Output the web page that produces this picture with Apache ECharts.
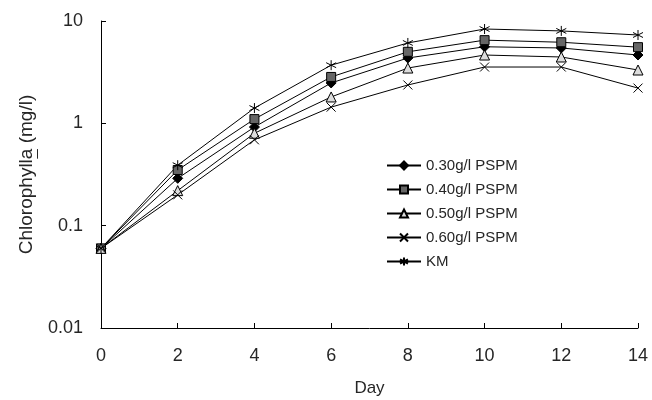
<!DOCTYPE html>
<html><head><meta charset="utf-8">
<script src="https://cdn.jsdelivr.net/npm/echarts@6/dist/echarts.min.js"></script>
<style>html,body{margin:0;padding:0;background:#fff}#c{width:652px;height:400px}</style>
</head><body><div id="c"></div>
<script>
const days = [0, 2, 4, 6, 8, 10, 12, 14];
const seriesNames = ['0.30g/l PSPM', '0.40g/l PSPM', '0.50g/l PSPM', '0.60g/l PSPM', 'KM'];
const pspm030 = [0.06, 0.29, 0.92, 2.48, 4.35, 5.6, 5.45, 4.65];
const pspm040 = [0.06, 0.35, 1.10, 2.84, 5.0, 6.5, 6.2, 5.55];
const pspm050 = [0.06, 0.22, 0.80, 1.81, 3.47, 4.65, 4.45, 3.32];
const pspm060 = [0.06, 0.20, 0.69, 1.44, 2.37, 3.55, 3.55, 2.21];
const km = [0.06, 0.39, 1.41, 3.7, 6.1, 8.35, 8.0, 7.3];
const yTicks = [0.01, 0.1, 1, 10];

const font = '"Liberation Sans", Arial, sans-serif';
const txt = '#262626';
const values = [pspm030, pspm040, pspm050, pspm060, km];
const symbols = [
  {symbol: 'diamond', size: 10, fill: '#000'},
  {symbol: 'rect', size: 9, fill: '#666'},
  {symbol: 'triangle', size: 10, fill: '#ddd'},
  {symbol: 'path://M0,0L10,10M10,0L0,10', size: 9, fill: 'none'},
  {symbol: 'path://M5,0L5,10M0,2.5L10,7.5M0,7.5L10,2.5', size: 10, fill: 'none'}
];

const gridTop = 21, gridBottom = 72, H = 400;
const nameSize = 19, nameGap = 65;
const namePre = 'Chlorophyll', nameA = 'a', namePost = ' (mg/l)';

// underline position for the "a" in the rotated axis name
const ctx = document.createElement('canvas').getContext('2d');
ctx.font = nameSize + 'px ' + font;
const wFull = ctx.measureText(namePre + nameA + namePost).width;
const wPre = ctx.measureText(namePre).width;
const wA = ctx.measureText(nameA).width;
const cy = (gridTop + (H - gridBottom)) / 2;
const yBottom = cy + wFull / 2;
const ulY1 = yBottom - wPre - wA + 0.5;
const ulY2 = yBottom - wPre - 0.5;
const ulX = 101 - nameGap + 1.5;

const series = seriesNames.map((n, i) => ({
  name: n,
  type: 'line',
  data: days.map((d, j) => [d, values[i][j]]),
  symbol: symbols[i].symbol,
  symbolSize: symbols[i].size,
  showAllSymbol: true,
  lineStyle: {color: '#000', width: 1},
  itemStyle: {color: symbols[i].fill, borderColor: '#000', borderWidth: 1},
  emphasis: {disabled: true},
  animation: false,
  z: 2
}));

const chart = echarts.init(document.getElementById('c'));
chart.setOption({
  backgroundColor: '#fff',
  animation: false,
  grid: {left: 101, right: 14, top: gridTop, bottom: gridBottom, containLabel: false, outerBoundsMode: 'none'},
  legend: {
    orient: 'vertical', left: 381, top: 153,
    itemWidth: 34, itemHeight: 10, itemGap: 9,
    textStyle: {fontFamily: font, fontSize: 15, color: txt},
    data: seriesNames
  },
  xAxis: {
    type: 'value', min: 0, max: 14, interval: 2,
    name: 'Day', nameLocation: 'middle', nameGap: 52,
    nameTextStyle: {fontFamily: font, fontSize: 17, color: txt},
    axisLine: {lineStyle: {color: '#000', width: 1}},
    axisTick: {inside: true, length: 5, lineStyle: {color: '#000'}},
    axisLabel: {fontFamily: font, fontSize: 18, color: txt, margin: 19},
    splitLine: {show: false}
  },
  yAxis: {
    type: 'log', logBase: 10, min: yTicks[0], max: yTicks[yTicks.length - 1],
    name: namePre + nameA + namePost, nameLocation: 'middle', nameGap: nameGap,
    nameTextStyle: {fontFamily: font, fontSize: nameSize, color: txt},
    axisLine: {show: true, lineStyle: {color: '#000', width: 1}},
    axisTick: {inside: true, length: 5, lineStyle: {color: '#000'}},
    axisLabel: {fontFamily: font, fontSize: 18, color: txt, margin: 18,
      formatter: v => String(+v.toPrecision(3))},
    splitLine: {show: false}
  },
  graphic: [{
    type: 'line', shape: {x1: ulX, y1: ulY1, x2: ulX, y2: ulY2},
    style: {stroke: txt, lineWidth: 1}
  }],
  series: series
});
</script></body></html>
